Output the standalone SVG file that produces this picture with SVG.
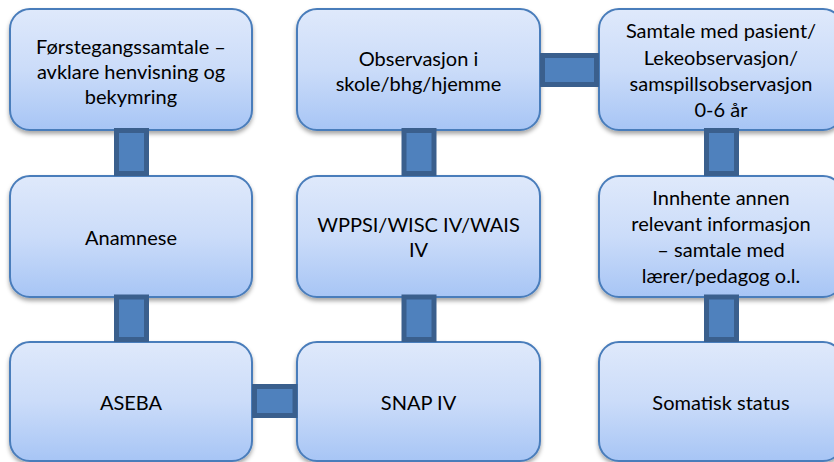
<svg xmlns="http://www.w3.org/2000/svg" width="834" height="462" viewBox="0 0 834 462">
  <defs>
    <linearGradient id="boxFill" x1="0" y1="0" x2="0" y2="1">
      <stop offset="0" stop-color="#dfe9fb"/>
      <stop offset="0.5" stop-color="#cbdcf9"/>
      <stop offset="1" stop-color="#a7c5f5"/>
    </linearGradient>
    <filter id="shadow" x="-10%" y="-10%" width="120%" height="125%">
      <feDropShadow dx="0" dy="3" stdDeviation="2.2" flood-color="#000" flood-opacity="0.35"/>
    </filter>
  </defs>
  <style>
    .box { fill: url(#boxFill); stroke: #4a7dbb; stroke-width: 2; filter: url(#shadow); }
    .link { fill: #4f81bd; stroke: #3a5f8d; stroke-width: 5; }
    text { font-family: Lato, "Liberation Sans", sans-serif; font-size: 20px; fill: #000; text-anchor: middle; }
  </style>
  <rect width="834" height="462" fill="#fff"/>

  <!-- column 1 -->
  <g id="forstegangssamtale">
    <rect class="box" x="10" y="9" width="242" height="121" rx="20"/>
    <text x="131" y="54">Førstegangssamtale –</text>
    <text x="131" y="79">avklare henvisning og</text>
    <text x="131" y="104">bekymring</text>
  </g>
  <g id="anamnese">
    <rect class="box" x="10" y="176" width="242" height="121" rx="20"/>
    <text x="131" y="244.5">Anamnese</text>
  </g>
  <g id="aseba">
    <rect class="box" x="10" y="342" width="242" height="119" rx="20"/>
    <text x="131" y="410">ASEBA</text>
  </g>

  <!-- column 2 -->
  <g id="observasjon">
    <rect class="box" x="297" y="9" width="243" height="121" rx="20"/>
    <text x="418.5" y="65.5">Observasjon i</text>
    <text x="418.5" y="90.5">skole/bhg/hjemme</text>
  </g>
  <g id="wppsi">
    <rect class="box" x="297" y="176" width="243" height="121" rx="20"/>
    <text x="418.5" y="231.5">WPPSI/WISC IV/WAIS</text>
    <text x="418.5" y="256.5">IV</text>
  </g>
  <g id="snap">
    <rect class="box" x="297" y="342" width="243" height="119" rx="20"/>
    <text x="418.5" y="410">SNAP IV</text>
  </g>

  <!-- column 3 -->
  <g id="samtale-pasient">
    <rect class="box" x="599" y="9" width="244" height="121" rx="20"/>
    <text x="721" y="38">Samtale med pasient/</text>
    <text x="721" y="65">Lekeobservasjon/</text>
    <text x="721" y="91">samspillsobservasjon</text>
    <text x="721" y="117">0-6 år</text>
  </g>
  <g id="annen-informasjon">
    <rect class="box" x="599" y="176" width="244" height="121" rx="20"/>
    <text x="721" y="205">Innhente annen</text>
    <text x="721" y="231">relevant informasjon</text>
    <text x="721" y="257">– samtale med</text>
    <text x="721" y="283">lærer/pedagog o.l.</text>
  </g>
  <g id="somatisk-status">
    <rect class="box" x="599" y="342" width="244" height="119" rx="20"/>
    <text x="721" y="410">Somatisk status</text>
  </g>

  <!-- connectors between neighbouring steps -->
  <g id="connectors">
    <rect class="link" x="116.5" y="130.5" width="30" height="43"/>
    <rect class="link" x="116.5" y="297" width="30" height="42.5"/>
    <rect class="link" x="254.5" y="386.5" width="40.5" height="29"/>
    <rect class="link" x="404" y="297" width="30" height="42.5"/>
    <rect class="link" x="404" y="130.5" width="30" height="43"/>
    <rect class="link" x="542.5" y="55.5" width="54" height="29"/>
    <rect class="link" x="706.5" y="130.5" width="30" height="43"/>
    <rect class="link" x="706.5" y="297" width="30" height="42.5"/>
  </g>
</svg>
